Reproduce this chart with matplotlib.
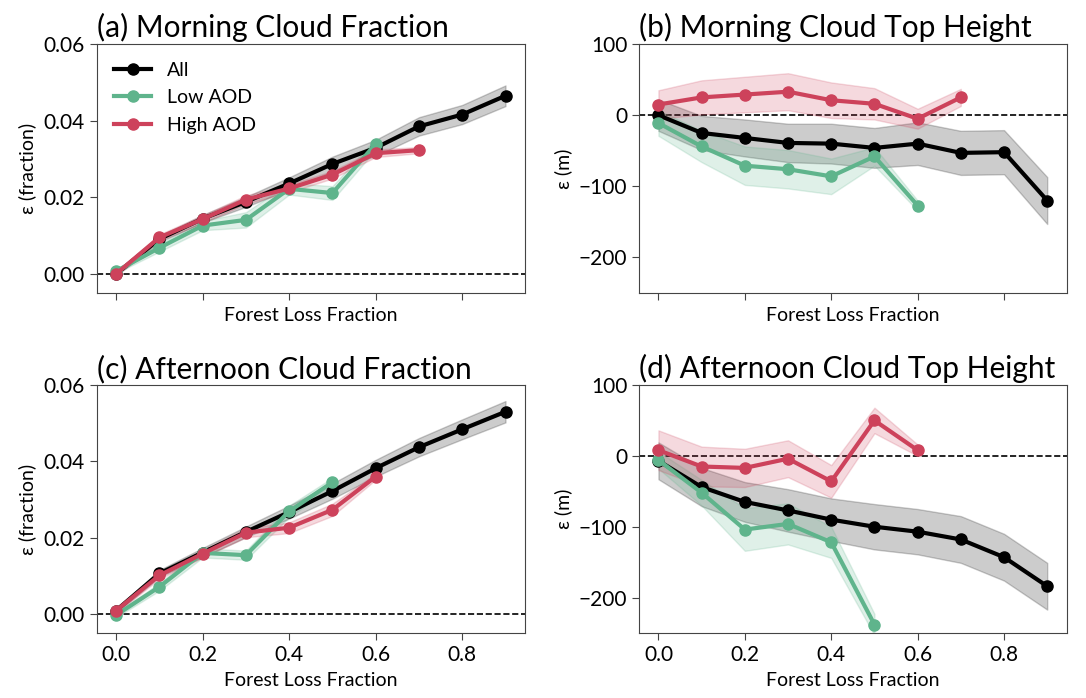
import numpy as np
import matplotlib
matplotlib.use("Agg")
import matplotlib.pyplot as plt

plt.rcParams['font.family'] = ['Lato', 'DejaVu Sans']

# forest loss fraction bins
x_all = [0.0, 0.1, 0.2, 0.3, 0.4, 0.5, 0.6, 0.7, 0.8, 0.9]

# (a) morning cloud fraction
all_a = [0.0, 0.0091, 0.0144, 0.0188, 0.0236, 0.0287, 0.0329, 0.0385, 0.0416, 0.0465]
all_a_err = [0.0005, 0.0008, 0.001, 0.0013, 0.0016, 0.0019, 0.0021, 0.0024, 0.0025, 0.0027]
low_a = [0.0007, 0.0068, 0.0126, 0.0141, 0.0222, 0.0211, 0.0339]
low_a_err = [0.0005, 0.001, 0.0012, 0.002, 0.0015, 0.0018, 0.0015]
high_a = [0.0, 0.0095, 0.0143, 0.0194, 0.0223, 0.0259, 0.0315, 0.0323]
high_a_err = [0.0004, 0.0008, 0.001, 0.0011, 0.001, 0.001, 0.001, 0.0008]

# (b) morning cloud top height
all_b = [0, -25, -32, -39, -40, -46, -40, -53, -52, -120]
all_b_err = [22, 24, 26, 27, 28, 28, 30, 31, 31, 33]
low_b = [-11, -44, -71, -76, -86, -58, -127]
low_b_err = [18, 22, 27, 27, 25, 13, 7]
high_b = [15, 25, 29, 33, 21, 16, -5, 25]
high_b_err = [20, 24, 25, 26, 25, 22, 14, 12]

# (c) afternoon cloud fraction
all_c = [0.0009, 0.0106, 0.0161, 0.0215, 0.0267, 0.0322, 0.0382, 0.0437, 0.0484, 0.0530]
all_c_err = [0.0006, 0.0009, 0.0012, 0.0014, 0.0017, 0.002, 0.0022, 0.0024, 0.0026, 0.0028]
low_c = [-0.0003, 0.0071, 0.016, 0.0154, 0.0269, 0.0345]
low_c_err = [0.0006, 0.001, 0.0012, 0.0012, 0.0015, 0.0012]
high_c = [0.0009, 0.0101, 0.0158, 0.0213, 0.0226, 0.0273, 0.036]
high_c_err = [0.0006, 0.0009, 0.001, 0.0012, 0.0014, 0.0016, 0.0008]

# (d) afternoon cloud top height
all_d = [-7, -44, -65, -77, -90, -100, -107, -118, -143, -184]
all_d_err = [26, 27, 28, 30, 30, 32, 32, 33, 33, 33]
low_d = [-6, -52, -104, -96, -122, -238]
low_d_err = [12, 18, 30, 29, 22, 15]
high_d = [8, -15, -17, -4, -36, 50, 8]
high_d_err = [28, 28, 27, 26, 23, 18, 8]

colors = {'All': 'black', 'Low AOD': '#5fb48c', 'High AOD': '#cd425b'}

panels = [
    ("(a) Morning Cloud Fraction", "ε (fraction)", (-0.005, 0.06),
     [(all_a, all_a_err), (low_a, low_a_err), (high_a, high_a_err)]),
    ("(b) Morning Cloud Top Height", "ε (m)", (-250, 100),
     [(all_b, all_b_err), (low_b, low_b_err), (high_b, high_b_err)]),
    ("(c) Afternoon Cloud Fraction", "ε (fraction)", (-0.005, 0.06),
     [(all_c, all_c_err), (low_c, low_c_err), (high_c, high_c_err)]),
    ("(d) Afternoon Cloud Top Height", "ε (m)", (-250, 100),
     [(all_d, all_d_err), (low_d, low_d_err), (high_d, high_d_err)]),
]

positions = [
    [0.089, 0.5802, 0.3944, 0.3567],
    [0.5884, 0.5802, 0.3938, 0.3567],
    [0.089, 0.0931, 0.3944, 0.3553],
    [0.5884, 0.0931, 0.3938, 0.3553],
]

fig = plt.figure(figsize=(10.86, 6.98), dpi=100)

for k, (title, ylab, ylim, series) in enumerate(panels):
    ax = fig.add_axes(positions[k])
    ax.axhline(0, color='black', ls='--', lw=1.2, zorder=1)
    for name, (vals, err) in zip(['All', 'Low AOD', 'High AOD'], series):
        vals = np.array(vals)
        err = np.array(err)
        xs = np.array(x_all[:len(vals)])
        c = colors[name]
        ax.fill_between(xs, vals - err, vals + err, color=c, alpha=0.2, zorder=2)
        ax.plot(xs, vals, '-o', color=c, lw=3, ms=8, label=name, zorder=3)
    ax.set_ylim(*ylim)
    ax.set_xticks([0, 0.2, 0.4, 0.6, 0.8])
    if ylim[1] == 100:
        ax.set_yticks([-200, -100, 0, 100])
    else:
        ax.set_yticks([0.0, 0.02, 0.04, 0.06])
    ax.set_title(title, loc='left', fontsize=21.5, pad=5)
    ax.set_ylabel(ylab, fontsize=14, labelpad=5)
    ax.set_xlabel("Forest Loss Fraction", fontsize=14, labelpad=5)
    ax.tick_params(labelsize=15, length=5, color='#444444')
    for s in ax.spines.values():
        s.set_color('#444444')
    if k < 2:
        ax.tick_params(labelbottom=False)
    if k == 0:
        ax.legend(loc='upper left', frameon=False, fontsize=14, handlelength=1.9,
                  labelspacing=0.55, borderaxespad=0.5)

fig.savefig("out.png", dpi=100)
